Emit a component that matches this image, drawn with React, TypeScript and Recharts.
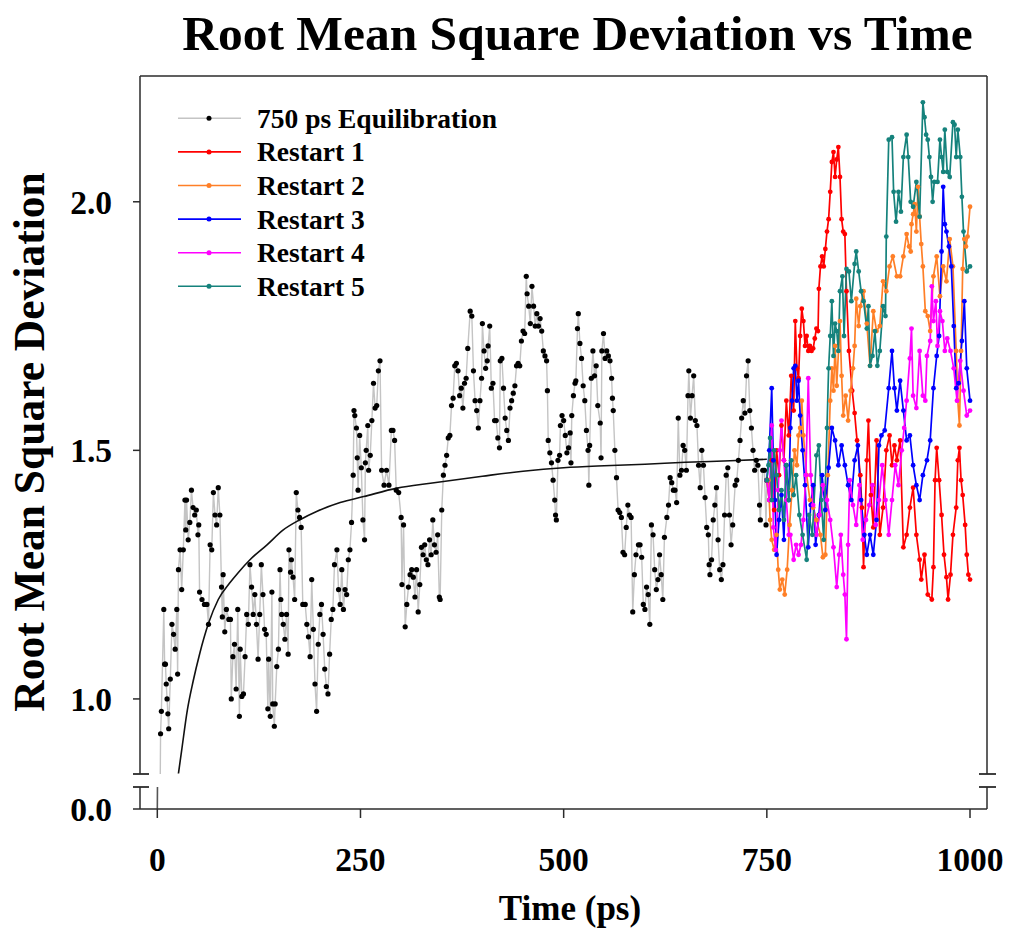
import { LineChart, Line, XAxis, YAxis } from 'recharts';

// [time (ps), RMSD]
const equilibration: [number, number][] = [
  [0, 0], [4, 0.93], [5, 0.975], [8, 1.18], [9, 1.07], [10, 1.07], [11, 1.03], [12, 1.0], [13, 0.97], [14, 0.94],
  [16, 1.04], [18, 1.15], [20, 1.13], [22, 1.1], [24, 1.18], [25, 1.05], [26, 1.26], [28, 1.3], [30, 1.22], [32, 1.3],
  [34, 1.4], [35, 1.34], [36, 1.4], [38, 1.32], [40, 1.355], [42, 1.42], [44, 1.385], [46, 1.37], [48, 1.38], [50, 1.33],
  [51, 1.35], [52, 1.215], [55, 1.2], [58, 1.19], [61, 1.19], [63, 1.15], [65, 1.31], [67, 1.3], [69, 1.415], [71, 1.37],
  [73, 1.35], [75, 1.425], [77, 1.37], [79, 1.225], [80, 1.165], [81, 1.25], [83, 1.135], [85, 1.18], [88, 1.16], [90, 1.16],
  [91, 1.0], [93, 1.085], [95, 1.11], [97, 1.02], [99, 1.18], [101, 0.965], [102, 1.1], [104, 1.005], [106, 1.01], [108, 1.085],
  [110, 1.17], [112, 1.15], [114, 1.27], [116, 1.225], [118, 1.17], [120, 1.21], [122, 1.15], [124, 1.08], [126, 1.17], [128, 1.27],
  [130, 1.21], [132, 1.14], [134, 1.13], [136, 0.98], [137, 1.08], [139, 0.965], [141, 1.215], [142, 0.99], [144, 0.945], [145, 0.99],
  [147, 1.065], [149, 1.1], [151, 1.26], [152, 1.2], [153, 1.17], [155, 1.15], [157, 1.12], [159, 1.17], [161, 1.09], [162, 1.3],
  [164, 1.255], [165, 1.28], [167, 1.245], [169, 1.2], [171, 1.415], [173, 1.38], [175, 1.365], [177, 1.345], [179, 1.19], [182, 1.19],
  [184, 1.15], [186, 1.125], [188, 1.085], [190, 1.24], [192, 1.14], [194, 1.03], [196, 0.975], [198, 1.11], [200, 1.17], [202, 1.19],
  [204, 1.13], [206, 1.06], [208, 1.025], [210, 1.01], [212, 1.09], [214, 1.16], [216, 1.18], [218, 1.27], [221, 1.3], [223, 1.22],
  [225, 1.19], [227, 1.26], [229, 1.18], [231, 1.22], [233, 1.21], [235, 1.28], [237, 1.3], [239, 1.355], [241, 1.45], [242, 1.58],
  [243, 1.57], [245, 1.545], [246, 1.485], [247, 1.42], [249, 1.53], [251, 1.465], [253, 1.36], [255, 1.32], [256, 1.475], [257, 1.5],
  [259, 1.55], [260, 1.46], [262, 1.49], [264, 1.56], [266, 1.635], [268, 1.585], [270, 1.59], [272, 1.66], [274, 1.68], [276, 1.46],
  [279, 1.43], [282, 1.46], [285, 1.43], [288, 1.54], [290, 1.54], [292, 1.52], [294, 1.42], [297, 1.415], [300, 1.365], [301, 1.23],
  [303, 1.35], [305, 1.145], [307, 1.19], [309, 1.225], [311, 1.25], [313, 1.26], [315, 1.245], [317, 1.205], [319, 1.26], [321, 1.175],
  [323, 1.23], [325, 1.305], [327, 1.29], [329, 1.31], [331, 1.28], [333, 1.27], [335, 1.32], [337, 1.29], [339, 1.36], [341, 1.31],
  [343, 1.295], [345, 1.33], [347, 1.205], [348, 1.2], [350, 1.38], [352, 1.45], [354, 1.47], [356, 1.49], [358, 1.525], [360, 1.53],
  [362, 1.59], [364, 1.605], [366, 1.67], [368, 1.675], [370, 1.66], [372, 1.61], [374, 1.625], [376, 1.585], [378, 1.635], [380, 1.645],
  [382, 1.705], [385, 1.78], [387, 1.77], [389, 1.66], [391, 1.6], [393, 1.58], [395, 1.545], [397, 1.6], [399, 1.645], [400, 1.755],
  [402, 1.7], [404, 1.665], [406, 1.68], [407, 1.71], [409, 1.75], [411, 1.625], [413, 1.635], [415, 1.56], [417, 1.56], [419, 1.525],
  [421, 1.505], [422, 1.68], [424, 1.685], [426, 1.625], [428, 1.565], [430, 1.54], [432, 1.52], [434, 1.585], [436, 1.6], [438, 1.615],
  [440, 1.63], [442, 1.67], [444, 1.675], [446, 1.67], [448, 1.72], [450, 1.74], [452, 1.735], [454, 1.85], [455, 1.815], [457, 1.79],
  [459, 1.755], [461, 1.83], [463, 1.79], [465, 1.75], [467, 1.775], [469, 1.75], [471, 1.765], [473, 1.74], [475, 1.7], [477, 1.69],
  [479, 1.68], [480, 1.62], [481, 1.52], [483, 1.495], [485, 1.475], [487, 1.44], [489, 1.4], [490, 1.37], [491, 1.36], [493, 1.48],
  [495, 1.49], [496, 1.55], [498, 1.57], [500, 1.56], [502, 1.53], [504, 1.495], [506, 1.505], [508, 1.535], [509, 1.475], [510, 1.57],
  [512, 1.61], [514, 1.635], [515, 1.64], [517, 1.745], [518, 1.775], [520, 1.715], [522, 1.685], [524, 1.63], [526, 1.6], [528, 1.54],
  [530, 1.5], [531, 1.43], [532, 1.51], [534, 1.645], [536, 1.7], [538, 1.65], [540, 1.67], [542, 1.59], [545, 1.555], [546, 1.485],
  [547, 1.7], [549, 1.735], [551, 1.685], [553, 1.7], [555, 1.69], [557, 1.68], [559, 1.645], [560, 1.605], [561, 1.58], [563, 1.5],
  [565, 1.445], [567, 1.38], [569, 1.375], [571, 1.365], [573, 1.295], [575, 1.29], [577, 1.345], [579, 1.39], [581, 1.37], [583, 1.365],
  [585, 1.175], [587, 1.25], [589, 1.29], [592, 1.31], [594, 1.31], [596, 1.285], [598, 1.19], [600, 1.18], [602, 1.225], [604, 1.21],
  [606, 1.15], [608, 1.35], [610, 1.33], [612, 1.26], [614, 1.22], [616, 1.24], [618, 1.29], [620, 1.25], [622, 1.2], [624, 1.325],
  [627, 1.365], [629, 1.39], [631, 1.445], [633, 1.435], [635, 1.42], [637, 1.42], [639, 1.395], [641, 1.565], [643, 1.45], [645, 1.46],
  [647, 1.51], [649, 1.5], [651, 1.46], [653, 1.61], [654, 1.66], [656, 1.565], [658, 1.61], [660, 1.65], [662, 1.56], [664, 1.55],
  [666, 1.47], [668, 1.425], [670, 1.5], [672, 1.47], [674, 1.405], [676, 1.345], [678, 1.33], [679, 1.27], [680, 1.25], [682, 1.28],
  [684, 1.36], [686, 1.39], [688, 1.425], [690, 1.32], [692, 1.26], [694, 1.24], [696, 1.27], [698, 1.37], [700, 1.45], [702, 1.465],
  [704, 1.37], [706, 1.31], [708, 1.35], [711, 1.43], [713, 1.44], [715, 1.48], [717, 1.52], [719, 1.565], [721, 1.6], [723, 1.575],
  [725, 1.65], [727, 1.68], [729, 1.58], [731, 1.545], [733, 1.5], [735, 1.46], [737, 1.48], [739, 1.47], [741, 1.39], [742, 1.36],
  [745, 1.46], [747, 1.46], [749, 1.35], [750, 1.44],
];

// exponential fit drawn through the equilibration run
const fitCurve: [number, number][] = [
  [26, 0.85], [30, 0.897], [37, 0.978], [44, 1.035], [52, 1.09], [63, 1.152], [75, 1.2], [89, 1.233], [100, 1.255], [114, 1.28],
  [135, 1.31], [155, 1.34], [175, 1.36], [196, 1.377], [225, 1.395], [254, 1.407], [295, 1.424], [336, 1.434], [400, 1.448],
  [450, 1.458], [500, 1.465], [550, 1.469], [600, 1.472], [650, 1.476], [705, 1.479], [750, 1.482],
];

const restart1: [number, number][] = [
  [750, 1.44], [753, 1.4], [756, 1.48], [759, 1.38], [762, 1.5], [765, 1.45], [768, 1.55], [771, 1.48], [774, 1.6], [777, 1.53],
  [780, 1.65], [783, 1.58], [785, 1.76], [787, 1.665], [789, 1.645], [791, 1.73], [793, 1.785], [795, 1.76], [797, 1.71], [799, 1.73],
  [801, 1.7], [803, 1.71], [805, 1.7], [807, 1.705], [809, 1.725], [811, 1.745], [813, 1.74], [814, 1.825], [816, 1.87], [818, 1.89],
  [820, 1.87], [822, 1.905], [824, 1.94], [826, 1.965], [828, 2.02], [830, 2.08], [832, 2.1], [834, 2.05], [836, 2.085], [838, 2.11],
  [840, 2.05], [842, 1.965], [844, 1.94], [846, 1.935], [848, 1.82], [851, 1.7], [855, 1.62], [858, 1.575], [861, 1.52], [865, 1.45],
  [867, 1.385], [869, 1.265], [873, 1.48], [875, 1.56], [878, 1.41], [881, 1.345], [885, 1.52], [889, 1.33], [893, 1.385], [897, 1.5],
  [901, 1.53], [904, 1.47], [907, 1.51], [910, 1.48], [914, 1.52], [918, 1.305], [922, 1.33], [926, 1.385], [930, 1.425], [934, 1.33],
  [938, 1.28], [940, 1.24], [944, 1.29], [948, 1.21], [953, 1.2], [955, 1.265], [957, 1.44], [959, 1.505], [962, 1.44], [965, 1.37],
  [968, 1.29], [971, 1.245], [973, 1.2], [976, 1.25], [979, 1.33], [983, 1.385], [985, 1.48], [987, 1.505], [989, 1.44], [991, 1.41],
  [994, 1.35], [996, 1.29], [998, 1.25], [1000, 1.24],
];

const restart2: [number, number][] = [
  [750, 1.44], [752, 1.44], [754, 1.36], [756, 1.32], [759, 1.3], [762, 1.33], [764, 1.26], [766, 1.22], [769, 1.24], [772, 1.21],
  [775, 1.26], [778, 1.35], [781, 1.42], [784, 1.5], [787, 1.47], [789, 1.53], [791, 1.545], [793, 1.6], [795, 1.53], [799, 1.45],
  [803, 1.4], [807, 1.385], [811, 1.36], [816, 1.33], [819, 1.285], [822, 1.29], [825, 1.45], [828, 1.6], [830, 1.665], [832, 1.62],
  [834, 1.71], [836, 1.63], [840, 1.76], [842, 1.65], [844, 1.57], [847, 1.61], [850, 1.56], [853, 1.62], [856, 1.665], [858, 1.71],
  [860, 1.805], [863, 1.75], [865, 1.79], [869, 1.82], [873, 1.755], [877, 1.67], [881, 1.78], [885, 1.74], [889, 1.75], [893, 1.84],
  [897, 1.82], [901, 1.87], [905, 1.89], [910, 1.85], [914, 1.85], [918, 1.89], [922, 1.935], [925, 1.91], [927, 1.9], [928, 1.955],
  [930, 1.975], [932, 1.995], [934, 1.94], [936, 2.03], [938, 1.97], [940, 1.915], [942, 1.87], [945, 1.78], [948, 1.77], [951, 1.74],
  [955, 1.85], [959, 1.89], [963, 1.81], [967, 1.87], [971, 1.84], [975, 1.925], [979, 1.87], [983, 1.7], [985, 1.6], [987, 1.55],
  [989, 1.7], [991, 1.865], [993, 1.925], [995, 1.91], [997, 1.93], [1000, 1.99],
];

const restart3: [number, number][] = [
  [750, 1.44], [753, 1.5], [756, 1.625], [758, 1.48], [760, 1.4], [762, 1.29], [765, 1.36], [768, 1.41], [771, 1.32], [774, 1.47],
  [777, 1.4], [779, 1.545], [781, 1.6], [783, 1.665], [785, 1.67], [787, 1.6], [789, 1.64], [791, 1.57], [794, 1.5], [797, 1.43],
  [801, 1.305], [804, 1.39], [807, 1.43], [810, 1.31], [814, 1.37], [818, 1.45], [822, 1.38], [826, 1.465], [830, 1.545], [834, 1.52],
  [838, 1.47], [842, 1.51], [846, 1.47], [850, 1.43], [854, 1.4], [858, 1.48], [862, 1.51], [866, 1.4], [870, 1.33], [873, 1.29],
  [877, 1.33], [881, 1.29], [885, 1.36], [888, 1.51], [891, 1.53], [895, 1.54], [900, 1.625], [904, 1.7], [907, 1.625], [910, 1.58],
  [914, 1.64], [918, 1.58], [922, 1.52], [926, 1.53], [930, 1.47], [934, 1.43], [938, 1.4], [942, 1.45], [947, 1.48], [951, 1.52],
  [955, 1.625], [959, 1.69], [962, 1.73], [965, 1.9], [967, 2.03], [969, 1.955], [971, 1.94], [974, 1.91], [977, 1.87], [980, 1.75],
  [983, 1.625], [986, 1.635], [990, 1.72], [993, 1.8], [996, 1.665], [1000, 1.6],
];

const restart4: [number, number][] = [
  [750, 1.44], [753, 1.4], [756, 1.55], [758, 1.345], [761, 1.3], [764, 1.42], [766, 1.5], [768, 1.56], [771, 1.48], [774, 1.4],
  [777, 1.33], [779, 1.33], [783, 1.28], [786, 1.31], [789, 1.29], [792, 1.31], [795, 1.36], [798, 1.45], [801, 1.645], [804, 1.45],
  [807, 1.39], [811, 1.33], [815, 1.37], [819, 1.43], [824, 1.4], [828, 1.36], [832, 1.305], [836, 1.225], [839, 1.29], [841, 1.33],
  [844, 1.25], [846, 1.21], [848, 1.12], [850, 1.31], [852, 1.44], [856, 1.39], [860, 1.35], [864, 1.43], [868, 1.32], [872, 1.36],
  [876, 1.39], [880, 1.43], [884, 1.35], [888, 1.4], [892, 1.47], [896, 1.4], [900, 1.33], [904, 1.4], [908, 1.47], [912, 1.43],
  [916, 1.5], [919, 1.545], [922, 1.6], [926, 1.685], [928, 1.745], [930, 1.61], [934, 1.585], [938, 1.7], [942, 1.61], [945, 1.6],
  [947, 1.69], [951, 1.72], [953, 1.83], [955, 1.76], [958, 1.8], [960, 1.71], [963, 1.78], [966, 1.76], [969, 1.7], [972, 1.725],
  [976, 1.7], [980, 1.665], [984, 1.6], [988, 1.68], [992, 1.62], [996, 1.57], [1000, 1.58],
];

const restart5: [number, number][] = [
  [750, 1.44], [752, 1.47], [754, 1.525], [756, 1.4], [759, 1.5], [762, 1.45], [765, 1.38], [768, 1.42], [771, 1.36], [774, 1.47],
  [777, 1.4], [780, 1.48], [783, 1.41], [786, 1.45], [790, 1.37], [794, 1.33], [799, 1.28], [802, 1.37], [806, 1.33], [811, 1.49],
  [814, 1.51], [817, 1.4], [820, 1.32], [824, 1.545], [826, 1.665], [828, 1.73], [830, 1.8], [832, 1.69], [834, 1.755], [836, 1.74],
  [838, 1.7], [840, 1.82], [843, 1.85], [845, 1.73], [848, 1.865], [851, 1.86], [854, 1.8], [858, 1.875], [860, 1.9], [863, 1.86],
  [866, 1.82], [869, 1.8], [873, 1.745], [875, 1.79], [877, 1.67], [880, 1.69], [883, 1.74], [886, 1.67], [889, 1.7], [893, 1.79],
  [896, 1.77], [897, 1.93], [900, 2.125], [904, 2.13], [906, 2.02], [909, 1.96], [912, 2.02], [915, 1.98], [918, 2.09], [922, 2.135],
  [924, 2.09], [927, 2.0], [930, 1.99], [934, 2.04], [938, 1.97], [942, 2.2], [944, 2.17], [946, 2.135], [948, 2.125], [950, 2.09],
  [952, 2.05], [954, 2.0], [956, 2.04], [960, 2.04], [963, 2.125], [965, 2.09], [967, 2.06], [969, 2.145], [972, 2.06], [975, 2.05],
  [979, 2.16], [981, 2.155], [983, 2.09], [985, 2.145], [988, 2.09], [990, 2.01], [992, 1.94], [996, 1.86], [1000, 1.87],
];

const seriesNames = ['750 ps Equilibration', 'Restart 1', 'Restart 2', 'Restart 3', 'Restart 4', 'Restart 5'];
const lineColors = ['#c4c4c4', '#ff0000', '#ff7f27', '#0000ff', '#ff00ff', '#15827c'];
const dotColors = ['#000000', '#ff0000', '#ff7f27', '#0000ff', '#ff00ff', '#15827c'];
const xTicks = [0, 250, 500, 750, 1000];
const yTicksUpper = [1.0, 1.5, 2.0];
const yTicksLower = [0];

const toRows = (pts: [number, number][]) => pts.map(([t, v]) => ({ t, v }));
const allSeries = [equilibration, restart1, restart2, restart3, restart4, restart5].map(toRows);

const FONT = '"Times New Roman", "Liberation Serif", serif';
const X_DOMAIN: [number, number] = [-21.3, 1020.9];
const AXIS = '#2b2b2b';

const tickStyle = { fontFamily: FONT, fontWeight: 700, fontSize: 33.5, fill: '#000' };

// legend drawn in page coordinates, rows 33.6px apart
function LegendRows() {
  return (
    <g>
      {seriesNames.map((name, i) => {
        const y = 118.3 + i * 33.6;
        return (
          <g key={name}>
            <line x1={178} x2={241} y1={y} y2={y} stroke={lineColors[i]} strokeWidth={1.6} />
            <circle cx={209} cy={y} r={2.5} fill={dotColors[i]} />
            <text x={257} y={y + 9.5} fontFamily={FONT} fontWeight={700} fontSize={27.5} fill="#000">{name}</text>
          </g>
        );
      })}
    </g>
  );
}

export default function App() {
  return (
    <div style={{ position: 'absolute', left: 0, top: 0, width: 1010, height: 935, background: '#fff' }}>
      {/* upper panel: 0.85 - 2.25 */}
      <div style={{ position: 'absolute', left: 0, top: 0 }}>
        <LineChart width={1010} height={780} margin={{ top: 76, right: 23, bottom: 6, left: 80 }}>
          <XAxis dataKey="t" type="number" domain={X_DOMAIN} allowDataOverflow hide />
          <YAxis
            type="number"
            domain={[0.849, 2.253]}
            allowDataOverflow
            ticks={yTicksUpper}
            tickFormatter={(v: number) => v.toFixed(1)}
            width={60}
            tickSize={7}
            tickMargin={21}
            tick={tickStyle}
            stroke={AXIS}
            strokeWidth={1.5}
          />
          <Line data={allSeries[0]} dataKey="v" name={seriesNames[0]} type="linear" stroke={lineColors[0]} strokeWidth={1.4}
            dot={{ r: 2.6, fill: '#000', stroke: 'none' }} isAnimationActive={false} />
          <Line data={toRows(fitCurve)} dataKey="v" name="fit" legendType="none" type="monotone" stroke="#111" strokeWidth={1.6}
            dot={false} isAnimationActive={false} />
          {allSeries.slice(1).map((rows, k) => (
            <Line key={seriesNames[k + 1]} data={rows} dataKey="v" name={seriesNames[k + 1]} type="linear"
              stroke={lineColors[k + 1]} strokeWidth={1.7}
              dot={{ r: 2.4, fill: dotColors[k + 1], stroke: 'none' }} isAnimationActive={false} />
          ))}
        </LineChart>
      </div>

      {/* lower panel: 0.0 */}
      <div style={{ position: 'absolute', left: 0, top: 760 }}>
        <LineChart width={1010} height={175} margin={{ top: 27, right: 23, bottom: 66, left: 80 }}>
          <XAxis
            dataKey="t"
            type="number"
            domain={X_DOMAIN}
            allowDataOverflow
            ticks={xTicks}
            height={60}
            tickSize={9}
            tickMargin={29}
            tick={tickStyle}
            stroke={AXIS}
            strokeWidth={1.5}
          />
          <YAxis
            type="number"
            domain={[0, 0.0442]}
            allowDataOverflow
            ticks={yTicksLower}
            tickFormatter={(v: number) => v.toFixed(1)}
            width={60}
            tickSize={7}
            tickMargin={21}
            tick={tickStyle}
            stroke={AXIS}
            strokeWidth={1.5}
          />
          <Line data={allSeries[0]} dataKey="v" type="linear" stroke="#555" strokeWidth={1.6}
            dot={false} isAnimationActive={false} />
        </LineChart>
      </div>

      {/* frame, axis breaks, legend and titles */}
      <svg width={1010} height={935} style={{ position: 'absolute', left: 0, top: 0, pointerEvents: 'none' }}>
        <line x1={140} x2={987} y1={76} y2={76} stroke={AXIS} strokeWidth={1.5} />
        <line x1={987} x2={987} y1={76} y2={774} stroke={AXIS} strokeWidth={1.5} />
        <line x1={987} x2={987} y1={787} y2={809} stroke={AXIS} strokeWidth={1.5} />
        <line x1={133} x2={149} y1={774} y2={774} stroke={AXIS} strokeWidth={1.8} />
        <line x1={133} x2={149} y1={787} y2={787} stroke={AXIS} strokeWidth={1.8} />
        <line x1={979} x2={996} y1={774} y2={774} stroke={AXIS} strokeWidth={1.8} />
        <line x1={979} x2={996} y1={787} y2={787} stroke={AXIS} strokeWidth={1.8} />
        <LegendRows />
        <text x={577.5} y={50} textAnchor="middle" fontFamily={FONT} fontWeight={700} fontSize={49.5} fill="#000">
          Root Mean Square Deviation vs Time
        </text>
        <text x={570} y={920} textAnchor="middle" fontFamily={FONT} fontWeight={700} fontSize={35} fill="#000">
          Time (ps)
        </text>
        <text x={44} y={442} textAnchor="middle" transform="rotate(-90, 44, 442)" fontFamily={FONT} fontWeight={700}
          fontSize={43.5} fill="#000">
          Root Mean Square Deviation
        </text>
      </svg>
    </div>
  );
}
